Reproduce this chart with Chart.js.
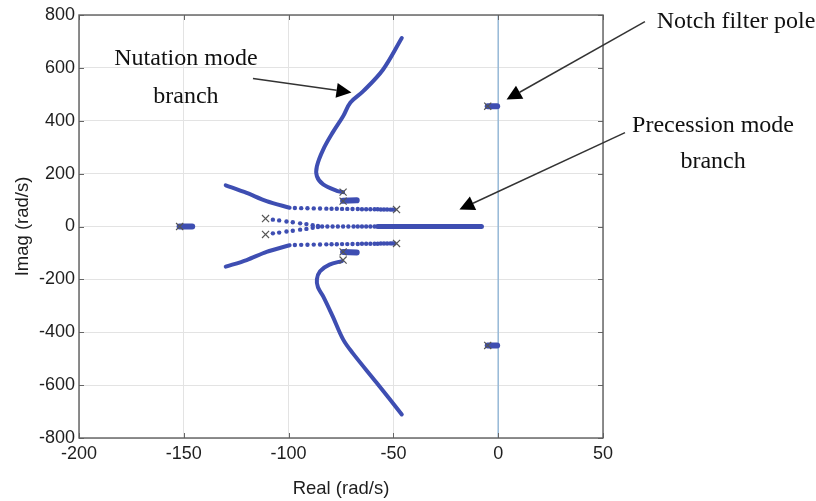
<!DOCTYPE html>
<html>
<head>
<meta charset="utf-8">
<script src="https://cdn.jsdelivr.net/npm/chart.js@4.4.1/dist/chart.umd.min.js"></script>
<style>
  html, body { margin: 0; padding: 0; background: #fff; }
  #wrap { width: 816px; height: 501px; position: relative; }
</style>
</head>
<body>
<div id="wrap"><canvas id="c" width="816" height="501"></canvas></div>
<script>
// ---- data (Real, Imag in rad/s) ----
const xTicks = [-200, -150, -100, -50, 0, 50];
const yTicks = [-800, -600, -400, -200, 0, 200, 400, 600, 800];

const nutationUpperRe = [-74, -77, -83.5, -86.5, -86.5, -83.5, -79, -74, -70.5, -64.5, -55, -46];
const nutationUpperIm = [130, 135, 159, 190, 228, 291, 355, 417, 469, 511, 593, 713];
const nutationLowerRe = [-74.5, -80.5, -85, -86.5, -86, -83.5, -79, -74, -69.5, -58, -46];
const nutationLowerIm = [-131, -144, -169, -200, -230, -264, -339, -427, -478, -591, -711];

const precSolidRe = [-130, -120, -110.5, -99.5];
const precSolidUpperIm = [156, 127, 96, 71];
const precSolidLowerIm = [-152, -127, -96, -71];

const precDotsRe = [-97, -94, -91, -88, -85, -82, -79.5, -77, -74.5, -72, -69.5, -67, -65, -63, -61, -59, -57.5, -56, -54.5, -53, -51.5, -50.5, -49.5];
const precDotsUpperIm = [70, 69.5, 69, 68.5, 68, 67.5, 67, 67, 66.5, 66.5, 66, 66, 65.5, 65.5, 65, 65, 65, 64.5, 64.5, 64.5, 64, 64, 64];
const precDotsLowerIm = [-70, -69.5, -69, -68.5, -68, -67.5, -67, -67, -66.5, -66.5, -66, -66, -65.5, -65.5, -65, -65, -65, -64.5, -64.5, -64.5, -64, -64, -64];

const innerDotsRe = [-107.5, -104.5, -101, -98, -94.5, -91.5, -88.5, -86];
const innerDotsUpperIm = [26, 23, 19, 16, 12, 9, 5, 2];
const innerDotsLowerIm = [-26, -23, -19, -16, -12, -9, -5, -2];

const realDotsRe = [-84, -81.5, -79, -76.5, -74, -71.5, -69, -67, -65, -63, -61, -59];
const realSolidRe = [-57.5, -8];

const blobNutRe = [-74, -67.5];
const blobNutUpperIm = [97, 99];
const blobNutLowerIm = [-96, -98];
const blobLeftRe = [-152, -146];
const blobLeftIm = [0, 0];
const blobNotchRe = [-5, -0.5];
const blobNotchUpperIm = [455, 455];
const blobNotchLowerIm = [-450, -450];

const poleRe = [-74, -74, -74, -74, -48.5, -48.5, -111, -111, -152, -5, -5];
const poleIm = [130, 96, -96, -127, 64, -64, 30, -30, 0, 455, -450];

const zeroLineRe = [0, 0];
const zeroLineIm = [-800, 800];

// annotations (text + arrow), in data units
const annotations = [
  { lines: ['Nutation mode', 'branch'], textRe: -149, textIm: [609, 469], from: [-117, 560], to: [-70, 507] },
  { lines: ['Notch filter pole'], textRe: 113.5, textIm: [752], from: [70, 775], to: [4, 480] },
  { lines: ['Precession mode', 'branch'], textRe: 102.5, textIm: [359, 223], from: [60.5, 355], to: [-18.5, 64] }
];

// ---- build ----
const pts = (re, im) => re.map((r, i) => ({ x: r, y: im[i] }));
const BLUE = 'rgb(62,78,178)';

function lineDs(data, width, tension) {
  return { data, showLine: true, borderColor: BLUE, backgroundColor: BLUE, borderWidth: width,
    pointRadius: 0, tension: tension || 0, borderCapStyle: 'round', borderJoinStyle: 'round', order: 2 };
}
function dotDs(data) {
  return { data, showLine: false, pointRadius: 2.2, pointBorderWidth: 0, backgroundColor: BLUE, borderColor: BLUE, order: 2 };
}

const datasets = [
  { data: pts(zeroLineRe, zeroLineIm), showLine: true, borderColor: 'rgb(150,185,215)', borderWidth: 1.5, pointRadius: 0, order: 5 },
  lineDs(pts(nutationUpperRe, nutationUpperIm), 4, 0.35),
  lineDs(pts(nutationLowerRe, nutationLowerIm), 4, 0.35),
  lineDs(pts(precSolidRe, precSolidUpperIm), 4, 0.3),
  lineDs(pts(precSolidRe, precSolidLowerIm), 4, 0.3),
  dotDs(pts(precDotsRe, precDotsUpperIm)),
  dotDs(pts(precDotsRe, precDotsLowerIm)),
  dotDs(pts(innerDotsRe, innerDotsUpperIm)),
  dotDs(pts(innerDotsRe, innerDotsLowerIm)),
  dotDs(pts(realDotsRe, realDotsRe.map(() => 0))),
  lineDs(pts(realSolidRe, realSolidRe.map(() => 0)), 5),
  lineDs(pts(blobNutRe, blobNutUpperIm), 6),
  lineDs(pts(blobNutRe, blobNutLowerIm), 6),
  lineDs(pts(blobLeftRe, blobLeftIm), 6),
  lineDs(pts(blobNotchRe, blobNotchUpperIm), 6),
  lineDs(pts(blobNotchRe, blobNotchLowerIm), 6),
  { data: pts(poleRe, poleIm), showLine: false, pointStyle: 'crossRot', pointRadius: 5,
    borderColor: '#555', borderWidth: 1.2, backgroundColor: 'transparent', order: 1 }
];

const framePlugin = {
  id: 'frame',
  afterDatasetsDraw(chart) {
    const { ctx, chartArea: a, scales } = chart;
    ctx.save();
    ctx.strokeStyle = '#666';
    ctx.lineWidth = 1;
    ctx.beginPath();
    xTicks.forEach(v => {
      const px = Math.round(scales.x.getPixelForValue(v)) + 0.5;
      ctx.moveTo(px, a.bottom); ctx.lineTo(px, a.bottom - 5);
      ctx.moveTo(px, a.top); ctx.lineTo(px, a.top + 5);
    });
    yTicks.forEach(v => {
      const py = Math.round(scales.y.getPixelForValue(v)) + 0.5;
      ctx.moveTo(a.left, py); ctx.lineTo(a.left + 5, py);
      ctx.moveTo(a.right, py); ctx.lineTo(a.right - 5, py);
    });
    ctx.stroke();
    ctx.strokeStyle = '#5e5e5e';
    ctx.lineWidth = 1.4;
    ctx.strokeRect(a.left, a.top, a.right - a.left, a.bottom - a.top);
    ctx.restore();
  },
  afterDraw(chart) {
    const { ctx, scales } = chart;
    const X = v => scales.x.getPixelForValue(v);
    const Y = v => scales.y.getPixelForValue(v);
    ctx.save();
    ctx.font = '24px "Liberation Serif", "Times New Roman", serif';
    ctx.textAlign = 'center';
    ctx.textBaseline = 'alphabetic';
    annotations.forEach(an => {
      ctx.fillStyle = '#111';
      an.lines.forEach((t, i) => ctx.fillText(t, X(an.textRe), Y(an.textIm[i])));
      const x1 = X(an.from[0]), y1 = Y(an.from[1]);
      const x2 = X(an.to[0]), y2 = Y(an.to[1]);
      const ang = Math.atan2(y2 - y1, x2 - x1);
      const hl = 15, hw = 7.5;
      const bx = x2 - hl * Math.cos(ang), by = y2 - hl * Math.sin(ang);
      ctx.strokeStyle = '#333';
      ctx.lineWidth = 1.5;
      ctx.beginPath(); ctx.moveTo(x1, y1); ctx.lineTo(bx, by); ctx.stroke();
      ctx.fillStyle = '#000';
      ctx.beginPath();
      ctx.moveTo(x2, y2);
      ctx.lineTo(bx + hw * Math.sin(ang), by - hw * Math.cos(ang));
      ctx.lineTo(bx - hw * Math.sin(ang), by + hw * Math.cos(ang));
      ctx.closePath(); ctx.fill();
    });
    ctx.restore();
  }
};

new Chart(document.getElementById('c'), {
  type: 'scatter',
  data: { datasets },
  options: {
    responsive: false,
    animation: false,
    layout: { padding: { left: 0, top: 15, right: 213, bottom: 0 } },
    plugins: { legend: { display: false }, tooltip: { enabled: false } },
    scales: {
      x: {
        type: 'linear', min: -200, max: 50,
        afterBuildTicks: s => { s.ticks = xTicks.map(v => ({ value: v })); },
        afterFit: s => { s.height = 63; },
        grid: { color: '#e3e3e3', drawTicks: false, lineWidth: 1 },
        border: { display: false },
        ticks: { color: '#1e1e1e', padding: 5, font: { family: 'Liberation Sans, Arial, sans-serif', size: 18 }, maxRotation: 0 },
        title: { display: true, text: 'Real (rad/s)', color: '#1e1e1e', padding: { top: 0, bottom: 1 },
          font: { family: 'Liberation Sans, Arial, sans-serif', size: 18.5 } }
      },
      y: {
        type: 'linear', min: -800, max: 800,
        afterBuildTicks: s => { s.ticks = yTicks.map(v => ({ value: v })); },
        afterFit: s => { s.width = 79; },
        grid: { color: '#e3e3e3', drawTicks: false, lineWidth: 1 },
        border: { display: false },
        ticks: { color: '#1e1e1e', padding: 4, font: { family: 'Liberation Sans, Arial, sans-serif', size: 18 } },
        title: { display: true, text: 'Imag (rad/s)', color: '#1e1e1e', padding: { top: 12, bottom: 0 },
          font: { family: 'Liberation Sans, Arial, sans-serif', size: 18.5 } }
      }
    }
  },
  plugins: [framePlugin]
});
</script>
</body>
</html>
